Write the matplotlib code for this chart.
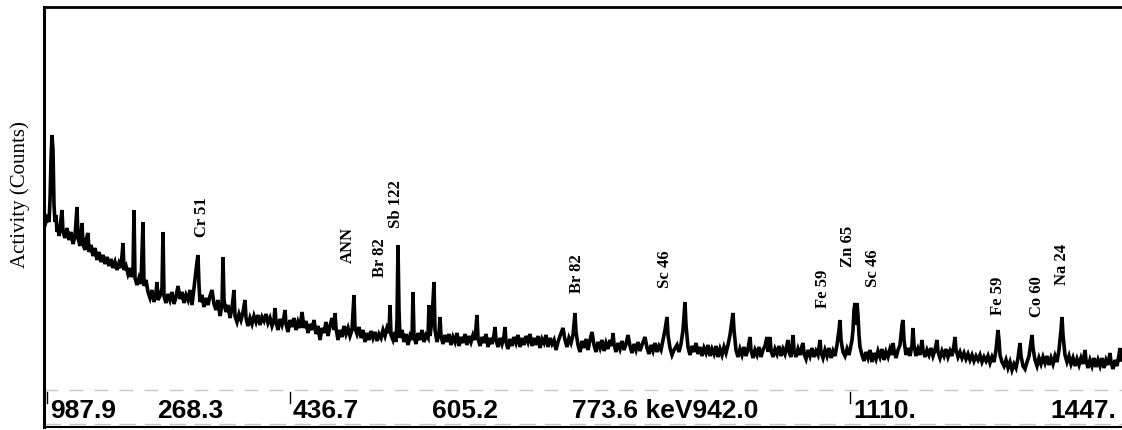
import matplotlib
matplotlib.use("Agg")
import matplotlib.pyplot as plt

# spectrum: channel vs counts (arbitrary units)
channel = [
    45, 47, 49, 50, 51, 52, 53, 54, 55, 56, 57, 58, 59, 60, 62, 63, 65, 67, 69, 71, 73, 75, 77, 78, 80, 82, 83, 85, 86, 88,
    89, 91, 93, 95, 97, 99, 101, 103, 105, 107, 109, 111, 113, 115, 117, 119, 121, 123, 124, 126, 128, 130,
    131, 133, 134, 135, 137, 139, 141, 143, 144, 146, 148, 150, 152, 154, 156, 157, 158, 160, 162, 163, 164, 166, 168, 170,
    172, 174, 176, 178, 180, 182, 184, 186, 188, 190, 192, 194, 196, 197, 198, 199, 200,
    202, 204, 206, 208, 210, 212, 214, 216, 218, 220, 222, 223, 224, 226, 228, 230, 232, 234, 235, 237, 239, 241, 243, 245,
    246, 248, 250, 252, 254, 256, 258, 260, 262, 264, 266, 268, 270, 272, 274, 275, 276, 278, 280, 282, 284, 285, 286, 288,
    290, 292, 294, 296, 298, 300,
    302, 304, 306, 308, 310, 312, 314, 316, 318, 320, 322, 324, 326, 328, 330, 332, 334, 335, 336, 338, 340, 342, 344, 346,
    348, 350, 352, 354, 355, 357, 359, 361, 363, 365, 367, 369, 371, 373, 375, 377, 379, 381, 383, 385, 387, 389, 390, 391,
    393, 395, 396, 397, 398, 399, 400,
    402, 404, 406, 408, 410, 412, 413, 414, 416, 418, 420, 422, 424, 426, 428, 429, 430, 432, 434, 435, 437, 439, 440, 441,
    443, 445, 447, 449, 451, 453, 455, 457, 459, 461, 463, 465, 467, 469, 471, 473, 475, 477, 478, 480, 482, 484, 486, 488,
    490, 492, 494, 495, 496, 498, 500,
    502, 504, 505, 506, 508, 510, 512, 514, 516, 518, 520, 522, 524, 526, 528, 530, 532, 534, 536, 538, 540, 542, 544, 546,
    548, 550, 552, 554, 556, 558, 560, 563, 565, 567, 569, 571, 573, 575, 576, 578, 580, 582, 584, 586, 588, 590, 592, 594,
    596, 598, 600,
    602, 604, 606, 608, 610, 612, 613, 614, 616, 618, 620, 622, 624, 626, 628, 630, 632, 634, 636, 638, 640, 642, 645, 647,
    649, 651, 653, 655, 657, 659, 661, 663, 665, 667, 668, 670, 672, 674, 677, 679, 681, 683, 685, 686, 688, 690, 692, 694,
    696, 698, 700,
    702, 704, 706, 708, 710, 712, 714, 716, 718, 720, 722, 724, 726, 728, 730, 732, 733, 734, 736, 738, 740, 742, 744, 746,
    748, 750, 751, 753, 755, 757, 759, 761, 763, 765, 767, 768, 770, 771, 773, 775, 777, 779, 781, 783, 785, 787, 788, 789,
    791, 793, 794, 796, 798, 800,
    802, 803, 804, 806, 808, 810, 812, 814, 816, 818, 820, 821, 823, 825, 827, 829, 831, 833, 835, 837, 839, 840, 841, 843,
    845, 847, 849, 851, 852, 853, 854, 855, 856, 857, 858, 859, 860, 862, 864, 866, 868, 870, 872, 874, 876, 878, 880, 882,
    884, 886, 888, 890, 892, 893, 894, 896, 898, 900,
    901, 902, 903, 904, 906, 908, 910, 912, 913, 914, 916, 918, 920, 922, 923, 925, 927, 929, 931, 933, 935, 937, 938, 940,
    942, 944, 946, 948, 950, 952, 954, 955, 956, 958, 960, 962, 964, 966, 968, 970, 972, 974, 976, 978, 980, 982, 984, 986,
    988, 990, 992, 994, 996, 998, 999, 1000,
    1002, 1004, 1006, 1008, 1010, 1012, 1014, 1016, 1018, 1020, 1021, 1023, 1025, 1027, 1029, 1031, 1032, 1033, 1035, 1037,
    1039, 1041, 1043, 1045, 1047, 1049, 1051, 1053, 1055, 1057, 1059, 1061, 1062, 1063, 1065, 1067, 1069, 1071, 1073, 1075,
    1077, 1079, 1081, 1083, 1085, 1086, 1088, 1090, 1092, 1094, 1096, 1098, 1100, 1102, 1104, 1106, 1108, 1110, 1111, 1113,
    1115, 1117, 1119, 1120, 1121,
]

counts = [
    205, 212, 208, 230, 270, 295, 280, 225, 208, 215, 198, 204, 194, 202, 220, 198, 192, 202, 190, 198, 186, 194, 223, 192, 184, 207, 186, 180, 190, 197,
    178, 185, 174, 182, 170, 178, 168, 175, 166, 173, 164, 171, 162, 168, 160, 167, 162, 187, 160, 164, 156, 162,
    153, 158, 220, 152, 145, 152, 146, 208, 144, 150, 138, 132, 140, 128, 137, 148, 130, 134, 142, 198, 134, 127, 136, 130,
    138, 126, 133, 144, 131, 138, 127, 135, 130, 140, 125, 142, 160, 168, 175, 145, 128,
    135, 123, 132, 125, 134, 140, 126, 120, 130, 114, 124, 173, 130, 118, 125, 112, 122, 140, 114, 108, 116, 110, 118, 130,
    112, 104, 112, 106, 114, 108, 115, 105, 113, 109, 116, 107, 112, 104, 110, 122, 108, 100, 111, 105, 113, 120, 106, 98,
    110, 103, 112, 100, 108, 102,
    118, 102, 109, 97, 106, 100, 110, 96, 104, 90, 102, 97, 108, 94, 104, 112, 100, 117, 102, 90, 100, 93, 104, 96,
    102, 94, 100, 135, 102, 96, 103, 92, 100, 88, 97, 90, 99, 92, 98, 89, 96, 92, 100, 94, 102, 97, 125, 95,
    90, 98, 88, 110, 185, 120, 92,
    100, 88, 96, 85, 94, 90, 138, 94, 86, 97, 90, 100, 88, 95, 92, 125, 94, 110, 148, 100, 88, 97, 113, 94,
    86, 95, 88, 96, 85, 93, 88, 97, 84, 93, 87, 96, 85, 94, 88, 95, 90, 115, 92, 84, 93, 87, 96, 83,
    92, 86, 95, 103, 90, 83, 92,
    86, 94, 103, 88, 81, 91, 84, 93, 87, 95, 83, 92, 85, 94, 88, 96, 84, 92, 85, 94, 82, 91, 87, 95,
    83, 92, 86, 90, 80, 88, 94, 102, 90, 83, 92, 87, 95, 117, 98, 85, 78, 89, 82, 91, 80, 90, 98, 85,
    78, 88, 82,
    90, 79, 87, 81, 90, 84, 97, 86, 78, 87, 81, 89, 80, 86, 95, 84, 77, 86, 80, 88, 79, 85, 93, 82,
    76, 85, 79, 87, 78, 84, 80, 90, 100, 113, 95, 82, 75, 80, 85, 78, 86, 100, 128, 105, 83, 75, 84, 78,
    87, 76, 83,
    74, 82, 77, 85, 74, 81, 76, 84, 73, 81, 75, 83, 77, 85, 95, 110, 117, 100, 80, 73, 81, 75, 83, 74,
    81, 93, 80, 72, 80, 75, 83, 73, 80, 84, 93, 78, 93, 80, 73, 81, 76, 84, 74, 81, 76, 85, 90, 78,
    73, 95, 80, 73, 81, 75,
    84, 87, 76, 71, 80, 74, 82, 73, 79, 75, 90, 78, 72, 80, 74, 82, 72, 79, 74, 85, 100, 110, 90, 78,
    74, 81, 75, 85, 90, 100, 120, 127, 105, 127, 115, 95, 83, 75, 69, 78, 72, 80, 68, 77, 71, 79, 73, 81,
    70, 78, 73, 81, 75, 87, 80, 72, 80, 85,
    95, 105, 110, 90, 75, 82, 74, 85, 102, 85, 74, 81, 75, 90, 80, 73, 80, 75, 82, 74, 80, 90, 78, 72,
    79, 74, 81, 73, 79, 74, 85, 93, 80, 73, 78, 72, 77, 71, 76, 70, 75, 69, 74, 70, 75, 68, 73, 69,
    74, 67, 73, 68, 80, 100, 90, 75,
    68, 64, 70, 62, 68, 60, 66, 62, 72, 87, 74, 64, 61, 68, 74, 88, 95, 82, 70, 64,
    72, 66, 73, 67, 74, 65, 72, 66, 74, 68, 80, 100, 113, 95, 75, 68, 74, 66, 72, 64,
    71, 65, 72, 66, 80, 70, 62, 70, 64, 72, 63, 70, 64, 72, 62, 70, 65, 77, 68, 61,
    70, 64, 75, 82, 70,
]

# nuclide labels and the channel of the peak they mark
peak_names = ["Cr 51", "ANN", "Br 82", "Sb 122", "Br 82", "Sc 46", "Fe 59", "Zn 65",
              "Sc 46", "Fe 59", "Co 60", "Na 24"]
peak_channels = [202, 348, 380, 396, 577, 665, 823, 848, 873, 998, 1037, 1062]
label_base = [193, 167, 153, 202, 137, 142, 122, 163, 143, 115, 113, 145]

# energy scale printed under the trace
energy_labels = ["987.9", "268.3", "436.7", "605.2", "773.6 keV942.0", "1110.", "1447."]
energy_channels = [50, 157, 293, 432, 572, 853, 1050]

fig = plt.figure(figsize=(11.22, 4.30), dpi=100)
ax = fig.add_axes([44 / 1122, 3 / 430, 1078 / 1122, 420 / 430])

ax.plot(channel, counts, color="black", lw=2.6, solid_joinstyle="miter")

for name, ch, yb in zip(peak_names, peak_channels, label_base):
    ax.text(ch, yb, name, rotation=90, ha="center", va="bottom",
            fontsize=12, fontweight="bold", family="Liberation Serif")

for lab, ch in zip(energy_labels, energy_channels):
    ax.text(ch, 19, lab, ha="left", va="center", fontsize=19,
            fontweight="bold", family="Liberation Sans")

# little bars in front of some scale numbers
for ch in [47, 290, 850]:
    ax.plot([ch, ch], [27, 38], color="black", lw=1)

# faint scan lines of the scale strip
ax.axhline(40, color="#c8c8c8", lw=1, ls=(0, (10, 8)))
ax.axhline(6, color="#c8c8c8", lw=1, ls=(0, (12, 6)))

ax.set_xlim(44, 1122)
ax.set_ylim(3, 423)
ax.set_xticks([])
ax.set_yticks([])
ax.spines["right"].set_visible(False)
ax.spines["left"].set_linewidth(2.2)
ax.spines["bottom"].set_linewidth(1.5)
ax.spines["top"].set_linewidth(2.0)

fig.text(20 / 1122, 1 - 195 / 430, "Activity (Counts)", rotation=90,
         ha="center", va="center", fontsize=15, family="Liberation Serif")

fig.savefig("out.png", dpi=100)
